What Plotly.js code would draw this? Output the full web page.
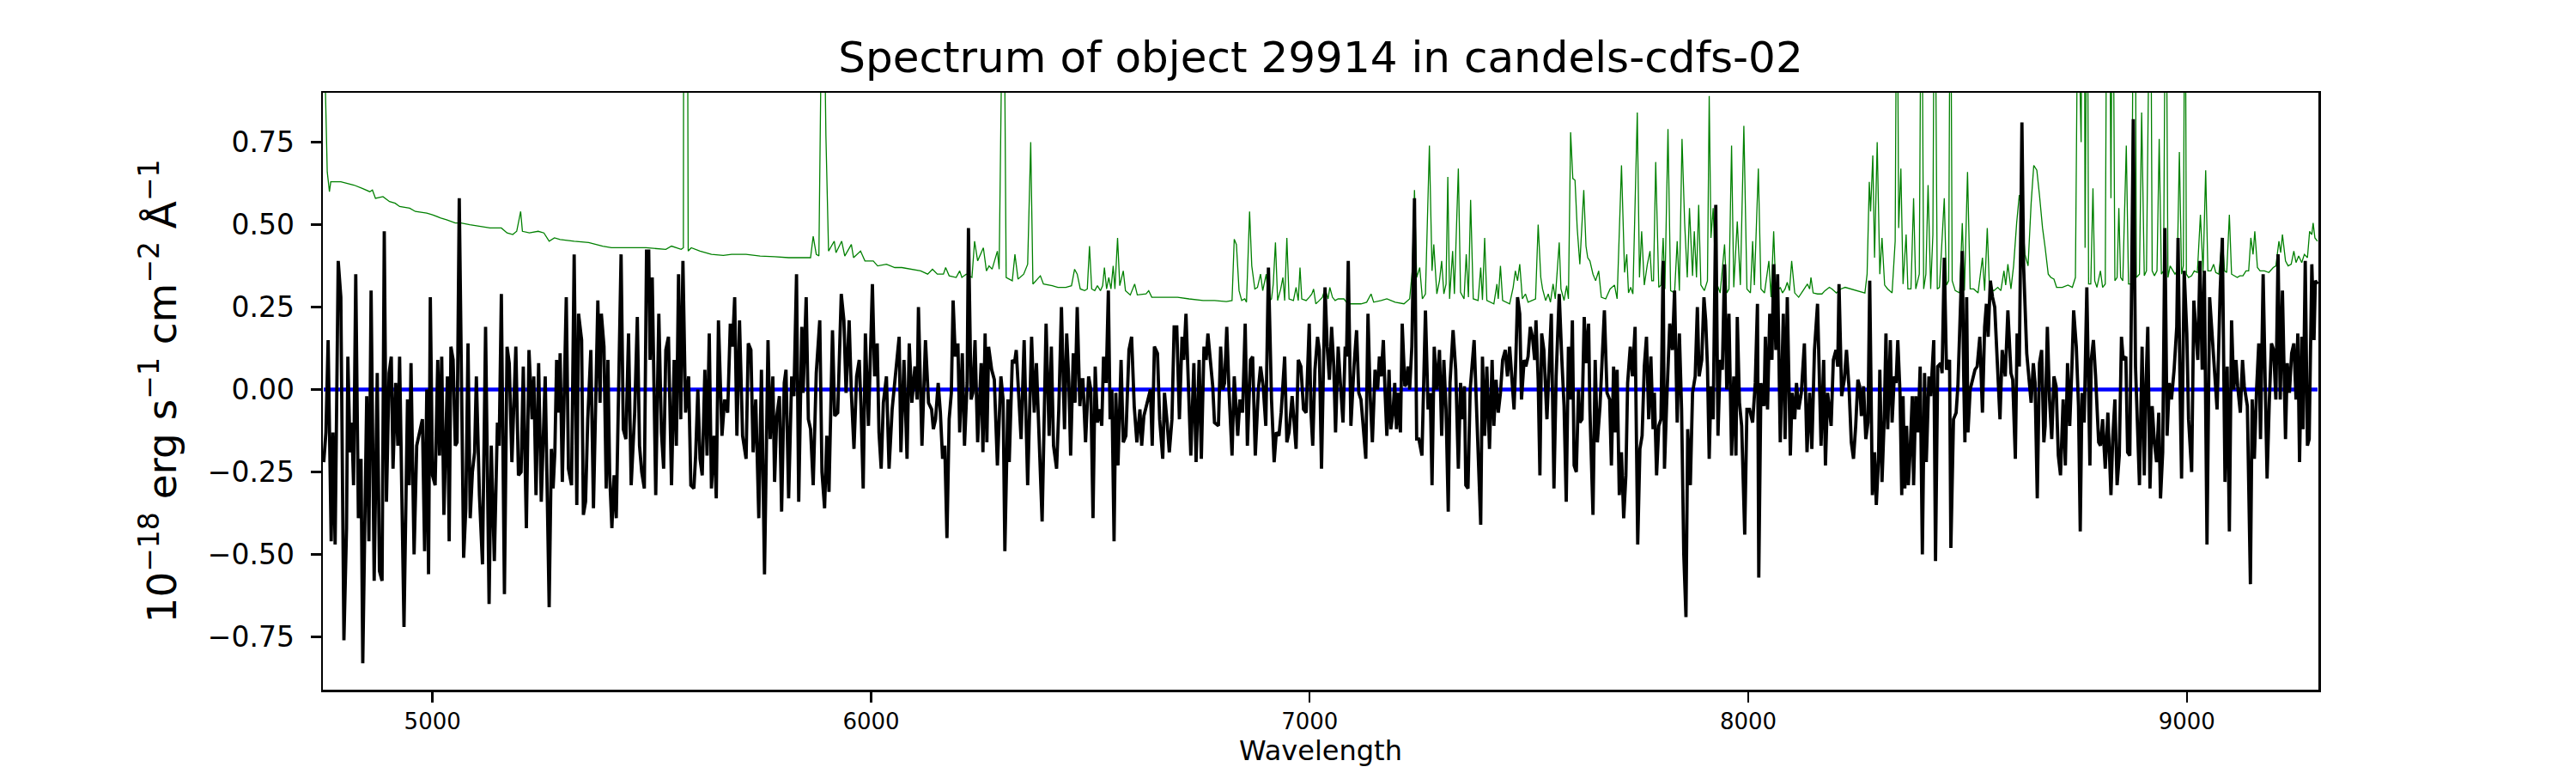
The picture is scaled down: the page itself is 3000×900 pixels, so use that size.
<!DOCTYPE html>
<html lang="en">

<head>
    <meta charset="utf-8">
    <title>Spectrum of object 29914</title>
    <script src="https://cdn.plot.ly/plotly-3.0.1.min.js"></script>

    <style>
        body,
        html {
            margin: 0;
            padding: 0;
            background: #ffffff;
            font-family: "DejaVu Sans", sans-serif;
        }
    </style>
</head>

<body>

    <div id="plot"></div>

    <script>
        const chartTitle = 'Spectrum of object 29914 in candels-cdfs-02';
        const xLabel = 'Wavelength';
        const yLabel = '10<sup>\u221218</sup> erg s<sup>\u22121</sup> cm<sup>\u22122</sup> \u00c5<sup>\u22121</sup>';

        const xTicks = [5000, 6000, 7000, 8000, 9000];
        const yTicks = [-0.75, -0.5, -0.25, 0, 0.25, 0.5, 0.75];
        const waveRange = [4750, 9300];
        const fluxRange = [-0.91, 0.9];
        const zeroLevel = 0;

        // object flux, [wavelength, flux]
        const fluxSamples = [
            [4752, -0.22], [4757, -0.13], [4762, 0.15], [4769, -0.46], [4773, -0.13], [4778, -0.47], [4785, 0.39], [4791, 0.28],
            [4798, -0.76], [4804, -0.42], [4807, 0.10], [4812, -0.19], [4816, -0.10], [4820, -0.29], [4825, 0.35], [4831, -0.39],
            [4837, -0.21], [4841, -0.83], [4850, -0.02], [4855, -0.46], [4860, 0.30], [4867, -0.58], [4874, 0.05], [4879, -0.55],
            [4885, -0.58], [4890, 0.48], [4895, -0.34], [4901, 0.05], [4906, 0.10], [4910, -0.24], [4916, 0.02], [4921, -0.17],
            [4925, 0.10], [4935, -0.72], [4943, -0.03], [4947, -0.29], [4951, 0.08], [4958, -0.50], [4964, -0.17], [4971, -0.13],
            [4977, -0.09], [4982, -0.49], [4987, 0.00], [4991, -0.56], [4995, 0.28], [5000, -0.26], [5006, -0.29], [5012, 0.09],
            [5016, -0.20], [5021, 0.10], [5026, -0.38], [5034, 0.04], [5038, -0.46], [5042, 0.13], [5047, 0.09], [5052, -0.17],
            [5056, -0.16], [5061, 0.58], [5067, -0.13], [5071, -0.51], [5076, -0.36], [5081, 0.14], [5086, -0.39], [5091, -0.25],
            [5096, -0.19], [5100, 0.04], [5107, -0.32], [5114, -0.53], [5121, 0.19], [5129, -0.65], [5134, -0.17], [5141, -0.52],
            [5148, -0.10], [5152, -0.17], [5157, 0.29], [5164, -0.62], [5170, 0.13], [5175, 0.08], [5181, -0.22], [5190, 0.13],
            [5196, -0.26], [5202, -0.25], [5207, 0.07], [5214, -0.42], [5220, 0.12], [5227, -0.09], [5231, 0.04], [5236, -0.32],
            [5242, 0.08], [5248, -0.34], [5257, 0.04], [5266, -0.66], [5271, -0.18], [5275, -0.30], [5279, -0.19], [5283, 0.09],
            [5288, -0.07], [5291, 0.11], [5296, -0.28], [5305, 0.28], [5310, -0.24], [5317, -0.29], [5323, 0.41], [5329, -0.35],
            [5333, 0.23], [5340, 0.15], [5344, -0.38], [5349, -0.34], [5354, -0.09], [5361, 0.12], [5367, -0.36], [5377, 0.27],
            [5382, -0.04], [5385, 0.23], [5391, 0.13], [5396, -0.30], [5400, 0.09], [5404, -0.26], [5409, -0.42], [5414, -0.26],
            [5419, -0.39], [5424, -0.03], [5430, 0.41], [5435, -0.12], [5441, -0.15], [5447, 0.17], [5453, -0.29], [5461, -0.07],
            [5467, 0.22], [5472, -0.17], [5477, -0.25], [5483, -0.30], [5488, 0.42], [5493, 0.42], [5496, 0.09], [5501, 0.34],
            [5509, -0.32], [5516, 0.23], [5522, -0.13], [5527, -0.24], [5532, 0.12], [5538, 0.16], [5545, -0.29], [5551, 0.09],
            [5556, -0.17], [5561, 0.35], [5566, -0.09], [5571, 0.39], [5577, -0.07], [5584, 0.04], [5589, -0.29], [5596, -0.30],
            [5600, -0.20], [5605, 0.00], [5610, -0.21], [5615, -0.26], [5621, 0.06], [5626, -0.20], [5631, 0.17], [5636, -0.30],
            [5642, -0.14], [5647, -0.33], [5652, 0.21], [5660, -0.14], [5666, -0.03], [5673, -0.07], [5679, 0.20], [5684, 0.13],
            [5689, 0.28], [5694, -0.14], [5700, 0.21], [5707, -0.14], [5715, -0.21], [5720, 0.14], [5726, 0.12], [5731, -0.19],
            [5737, -0.03], [5744, -0.39], [5750, 0.06], [5757, -0.56], [5765, 0.15], [5770, -0.15], [5776, 0.04], [5780, -0.28],
            [5785, -0.08], [5791, -0.02], [5796, -0.37], [5802, 0.02], [5806, 0.06], [5812, -0.33], [5819, 0.04], [5824, -0.02],
            [5830, 0.35], [5835, -0.34], [5842, 0.19], [5845, -0.01], [5852, 0.28], [5857, -0.09], [5862, -0.12], [5868, -0.29],
            [5875, 0.05], [5883, 0.21], [5888, -0.25], [5894, -0.36], [5899, -0.14], [5904, -0.31], [5912, 0.18], [5917, -0.08],
            [5924, -0.07], [5932, 0.29], [5938, 0.21], [5943, -0.01], [5950, 0.21], [5955, -0.01], [5961, -0.18], [5967, 0.04],
            [5973, 0.09], [5977, -0.05], [5982, -0.30], [5987, 0.17], [5994, -0.11], [6003, 0.32], [6008, 0.04], [6014, 0.14],
            [6018, -0.13], [6023, -0.24], [6028, -0.04], [6035, 0.04], [6041, -0.24], [6048, -0.06], [6055, 0.04], [6064, 0.16],
            [6068, -0.19], [6075, 0.09], [6082, -0.21], [6087, 0.14], [6093, -0.04], [6100, 0.07], [6105, -0.03], [6108, 0.25],
            [6116, -0.17], [6124, 0.15], [6131, -0.04], [6138, -0.06], [6142, -0.12], [6147, -0.09], [6153, 0.02], [6158, -0.07],
            [6163, -0.21], [6168, -0.17], [6173, -0.45], [6178, -0.09], [6183, -0.01], [6187, 0.27], [6192, 0.10], [6198, 0.14],
            [6202, -0.13], [6208, 0.11], [6213, -0.17], [6219, 0.02], [6222, 0.49], [6228, -0.03], [6232, -0.01], [6237, 0.15],
            [6243, -0.16], [6251, 0.08], [6255, -0.19], [6260, 0.17], [6264, -0.16], [6268, 0.13], [6275, 0.06], [6281, 0.03],
            [6288, -0.23], [6296, 0.04], [6301, -0.03], [6305, -0.49], [6312, -0.03], [6315, -0.22], [6322, 0.09], [6327, 0.08],
            [6331, 0.12], [6338, -0.03], [6342, -0.15], [6349, 0.15], [6357, -0.29], [6366, 0.16], [6372, -0.07], [6377, 0.08],
            [6384, -0.21], [6390, -0.40], [6399, 0.20], [6406, -0.14], [6411, 0.13], [6416, -0.17], [6423, -0.24], [6428, -0.06],
            [6434, 0.25], [6441, -0.12], [6446, 0.17], [6451, 0.02], [6455, -0.20], [6461, 0.11], [6465, -0.04], [6470, 0.25],
            [6476, -0.05], [6480, 0.03], [6483, 0.03], [6489, -0.16], [6496, 0.04], [6501, 0.00], [6506, -0.39], [6511, 0.07],
            [6516, -0.10], [6521, -0.06], [6526, -0.11], [6530, 0.10], [6536, 0.02], [6541, 0.30], [6545, -0.09], [6549, 0.00],
            [6554, -0.46], [6558, -0.01], [6563, -0.23], [6570, 0.09], [6575, -0.16], [6581, -0.14], [6588, 0.12], [6594, 0.16],
            [6600, -0.05], [6606, -0.16], [6613, -0.06], [6617, -0.17], [6622, -0.08], [6630, -0.04], [6637, 0.00], [6641, -0.17],
            [6646, 0.13], [6653, 0.11], [6658, -0.09], [6665, -0.21], [6669, -0.01], [6675, -0.10], [6680, -0.19], [6686, -0.09],
            [6691, 0.19], [6697, 0.19], [6703, -0.09], [6709, 0.16], [6713, 0.09], [6718, 0.23], [6723, 0.01], [6729, -0.20],
            [6736, 0.08], [6741, -0.22], [6748, 0.09], [6753, -0.21], [6759, 0.13], [6764, 0.09], [6768, 0.17], [6774, 0.07],
            [6779, 0.01], [6783, -0.10], [6792, -0.11], [6797, 0.13], [6802, 0.00], [6806, 0.02], [6811, 0.19], [6816, 0.00],
            [6823, -0.20], [6828, 0.04], [6836, -0.14], [6841, -0.03], [6847, -0.07], [6853, 0.20], [6858, -0.17], [6865, 0.09],
            [6870, 0.10], [6876, -0.20], [6883, 0.00], [6888, 0.07], [6894, 0.01], [6900, -0.11], [6906, 0.37], [6913, -0.03],
            [6919, -0.22], [6924, -0.13], [6930, -0.14], [6935, -0.07], [6943, 0.10], [6948, -0.16], [6953, -0.13], [6960, -0.02],
            [6965, -0.13], [6969, -0.18], [6974, 0.09], [6980, 0.07], [6986, -0.06], [6992, -0.07], [6999, 0.20], [7003, -0.07],
            [7007, -0.17], [7012, 0.06], [7018, 0.16], [7022, 0.12], [7027, -0.24], [7032, 0.07], [7035, 0.31], [7040, 0.13],
            [7045, 0.03], [7050, 0.19], [7055, 0.07], [7059, -0.13], [7065, 0.13], [7070, 0.02], [7076, -0.10], [7081, 0.13],
            [7084, 0.10], [7088, 0.39], [7094, -0.11], [7101, 0.07], [7107, 0.18], [7112, -0.01], [7117, -0.03], [7122, -0.11],
            [7128, -0.21], [7133, 0.23], [7138, -0.02], [7143, -0.16], [7149, 0.06], [7155, 0.00], [7159, 0.10], [7163, 0.04],
            [7168, 0.15], [7172, -0.01], [7176, -0.14], [7181, 0.06], [7185, -0.12], [7190, -0.07], [7194, 0.02], [7198, -0.12],
            [7202, -0.01], [7207, -0.13], [7211, 0.20], [7217, 0.01], [7221, 0.02], [7224, 0.07], [7228, 0.00], [7233, 0.13],
            [7239, 0.58], [7244, -0.15], [7249, -0.15], [7256, -0.20], [7260, 0.02], [7264, 0.24], [7270, -0.06], [7275, -0.01],
            [7279, -0.29], [7284, 0.13], [7290, 0.00], [7296, 0.12], [7301, -0.14], [7306, 0.09], [7311, -0.06], [7316, -0.37],
            [7320, 0.02], [7327, 0.18], [7333, 0.06], [7339, -0.24], [7344, 0.02], [7348, -0.09], [7353, 0.01], [7356, -0.29],
            [7361, -0.30], [7366, 0.00], [7375, 0.15], [7381, -0.05], [7390, -0.41], [7394, 0.10], [7399, -0.14], [7404, 0.07],
            [7410, -0.18], [7416, 0.09], [7420, -0.11], [7425, 0.03], [7430, -0.07], [7435, -0.01], [7440, 0.09], [7446, 0.12],
            [7451, 0.04], [7456, 0.13], [7461, 0.02], [7466, -0.06], [7470, 0.09], [7474, 0.28], [7479, 0.23], [7483, -0.03],
            [7489, 0.09], [7493, 0.07], [7498, 0.10], [7503, 0.19], [7508, 0.16], [7513, 0.09], [7516, 0.21], [7521, 0.03],
            [7525, -0.26], [7529, 0.17], [7534, 0.12], [7541, -0.09], [7551, 0.23], [7557, -0.30], [7562, 0.04], [7569, 0.29],
            [7575, 0.09], [7580, -0.05], [7585, -0.34], [7590, 0.13], [7595, -0.03], [7599, 0.21], [7603, -0.23], [7608, -0.25],
            [7613, 0.00], [7616, -0.10], [7621, -0.09], [7626, 0.22], [7631, 0.08], [7636, 0.20], [7639, -0.06], [7646, -0.38],
            [7651, 0.09], [7656, -0.16], [7662, -0.05], [7667, 0.09], [7672, 0.24], [7678, -0.01], [7684, -0.03], [7688, -0.23],
            [7693, 0.07], [7697, -0.13], [7701, 0.06], [7706, -0.32], [7711, -0.19], [7716, -0.39], [7721, -0.26], [7725, 0.02],
            [7731, 0.13], [7736, 0.04], [7742, 0.19], [7748, -0.47], [7753, -0.18], [7758, -0.14], [7763, 0.07], [7768, 0.16],
            [7773, -0.09], [7778, 0.10], [7783, -0.12], [7786, -0.01], [7791, -0.26], [7796, -0.11], [7801, -0.09], [7806, 0.39],
            [7809, -0.24], [7814, -0.04], [7821, 0.20], [7827, 0.12], [7832, 0.30], [7838, -0.10], [7843, 0.17], [7848, -0.06],
            [7853, -0.50], [7858, -0.69], [7862, -0.12], [7868, -0.29], [7873, -0.01], [7879, 0.04], [7884, 0.25], [7888, 0.04],
            [7894, 0.09], [7899, 0.28], [7903, 0.21], [7907, 0.07], [7911, -0.21], [7915, 0.01], [7920, -0.09], [7926, 0.56],
            [7931, -0.14], [7936, 0.09], [7941, 0.06], [7946, 0.38], [7951, 0.00], [7956, 0.23], [7962, -0.20], [7967, 0.04],
            [7972, -0.20], [7975, 0.22], [7980, -0.04], [7985, -0.11], [7992, -0.44], [7997, -0.06], [8003, -0.06], [8010, -0.10],
            [8016, 0.02], [8021, 0.26], [8024, -0.57], [8029, 0.02], [8036, -0.05], [8039, 0.16], [8044, -0.06], [8049, 0.23],
            [8054, 0.09], [8058, 0.38], [8063, 0.12], [8067, 0.35], [8073, -0.16], [8080, 0.23], [8084, -0.15], [8089, 0.28],
            [8096, -0.20], [8100, -0.01], [8106, -0.09], [8110, 0.02], [8115, -0.06], [8121, -0.01], [8128, 0.14], [8134, -0.19],
            [8140, -0.01], [8145, -0.18], [8151, 0.12], [8158, 0.26], [8166, -0.17], [8172, 0.09], [8176, -0.23], [8181, -0.01],
            [8189, -0.11], [8194, 0.09], [8200, 0.12], [8204, 0.07], [8207, 0.32], [8213, -0.02], [8219, 0.03], [8224, 0.12],
            [8230, 0.00], [8235, -0.16], [8240, -0.21], [8245, -0.11], [8250, 0.03], [8254, 0.01], [8258, -0.08], [8263, 0.01],
            [8268, -0.15], [8273, -0.10], [8277, 0.33], [8283, -0.32], [8288, -0.19], [8292, -0.35], [8297, -0.21], [8300, 0.06],
            [8305, -0.28], [8310, -0.09], [8314, 0.17], [8318, -0.12], [8324, 0.15], [8328, -0.10], [8333, 0.04], [8337, 0.02],
            [8341, 0.15], [8346, -0.01], [8350, -0.32], [8353, -0.02], [8357, -0.30], [8361, -0.11], [8365, -0.29], [8369, -0.19],
            [8374, -0.02], [8377, -0.29], [8382, -0.02], [8387, -0.13], [8392, 0.07], [8397, -0.50], [8402, 0.05], [8406, -0.22],
            [8412, 0.04], [8416, -0.02], [8423, 0.15], [8427, -0.52], [8432, 0.07], [8439, 0.08], [8442, 0.05], [8447, 0.40],
            [8452, 0.06], [8459, 0.09], [8462, -0.48], [8468, -0.09], [8474, -0.07], [8478, 0.01], [8483, 0.26], [8488, 0.42],
            [8491, 0.06], [8494, -0.16], [8498, 0.28], [8501, -0.13], [8506, 0.00], [8511, 0.03], [8517, 0.06], [8522, 0.07],
            [8528, 0.16], [8534, -0.07], [8539, 0.19], [8543, 0.26], [8547, 0.16], [8552, 0.33], [8557, 0.28], [8562, 0.25],
            [8568, 0.10], [8574, -0.09], [8579, 0.12], [8586, 0.04], [8592, 0.24], [8599, 0.05], [8603, 0.03], [8609, -0.21],
            [8613, 0.17], [8618, 0.07], [8624, 0.81], [8628, 0.37], [8635, 0.11], [8640, 0.03], [8645, -0.04], [8650, 0.08],
            [8654, 0.02], [8659, -0.33], [8664, 0.08], [8669, 0.12], [8674, -0.16], [8677, -0.11], [8682, 0.19], [8687, -0.03],
            [8692, -0.15], [8697, 0.04], [8702, 0.01], [8707, -0.20], [8712, -0.26], [8718, -0.03], [8723, -0.23], [8728, 0.08],
            [8733, -0.11], [8738, 0.07], [8742, 0.24], [8748, 0.13], [8753, -0.05], [8757, -0.43], [8761, -0.01], [8766, -0.10],
            [8772, 0.31], [8779, -0.23], [8782, 0.09], [8787, 0.15], [8792, 0.04], [8799, -0.16], [8803, -0.17], [8808, -0.09],
            [8814, -0.24], [8820, -0.07], [8827, -0.32], [8831, -0.15], [8836, -0.03], [8841, -0.29], [8846, -0.20], [8851, 0.16],
            [8855, 0.09], [8861, 0.10], [8865, -0.19], [8870, -0.20], [8878, 0.82], [8883, 0.07], [8887, -0.11], [8892, -0.29],
            [8898, 0.13], [8903, -0.26], [8907, 0.02], [8911, 0.19], [8916, -0.30], [8921, -0.05], [8926, -0.16], [8931, -0.22],
            [8936, -0.07], [8940, -0.33], [8945, -0.19], [8950, 0.49], [8955, -0.14], [8960, 0.02], [8965, -0.03], [8971, 0.06],
            [8977, 0.19], [8980, 0.46], [8985, -0.03], [8988, -0.27], [8994, 0.36], [9000, 0.17], [9004, -0.09], [9011, -0.25],
            [9016, 0.27], [9020, 0.17], [9025, 0.09], [9030, 0.39], [9035, 0.06], [9040, 0.36], [9046, -0.47], [9052, 0.28],
            [9056, 0.20], [9063, 0.03], [9069, -0.06], [9076, 0.30], [9081, 0.46], [9087, -0.28], [9092, 0.07], [9097, -0.43],
            [9102, 0.21], [9107, 0.00], [9112, 0.09], [9116, 0.01], [9122, -0.07], [9127, 0.09], [9131, 0.01], [9138, -0.05],
            [9145, -0.59], [9149, -0.03], [9154, -0.21], [9159, 0.00], [9164, 0.14], [9168, -0.15], [9174, 0.35], [9179, 0.00],
            [9183, -0.27], [9188, -0.04], [9193, 0.14], [9198, 0.12], [9203, -0.03], [9208, 0.41], [9213, -0.03], [9218, 0.30],
            [9225, -0.15], [9229, 0.08], [9234, -0.01], [9239, 0.11], [9244, 0.14], [9249, -0.03], [9253, 0.17], [9257, -0.22],
            [9262, 0.16], [9265, -0.12], [9270, 0.39], [9275, -0.17], [9279, -0.15], [9285, 0.38], [9290, 0.15], [9293, 0.33],
            [9298, 0.32]
        ];

        // noise / sky spectrum, [wavelength, value]; peaks above the frame are clipped
        const skySamples = [
            [4751, 1.20], [4756, 0.85], [4760, 0.66], [4765, 0.60], [4768, 0.63], [4779, 0.63], [4791, 0.63], [4806, 0.625],
            [4821, 0.62], [4840, 0.61], [4857, 0.60], [4863, 0.605], [4870, 0.58], [4887, 0.585], [4902, 0.57], [4915, 0.565],
            [4925, 0.555], [4948, 0.55], [4961, 0.54], [4987, 0.535], [5000, 0.53], [5019, 0.52], [5032, 0.515], [5052, 0.505],
            [5065, 0.505], [5085, 0.50], [5111, 0.495], [5131, 0.49], [5157, 0.49], [5170, 0.475], [5183, 0.47], [5192, 0.48],
            [5201, 0.54], [5205, 0.48], [5221, 0.475], [5241, 0.48], [5254, 0.475], [5266, 0.45], [5278, 0.46], [5291, 0.455],
            [5323, 0.45], [5356, 0.446], [5388, 0.435], [5408, 0.43], [5454, 0.43], [5487, 0.43], [5532, 0.425], [5545, 0.435],
            [5567, 0.425], [5572, 0.43], [5573, 1.5], [5581, 1.5], [5583, 0.42], [5590, 0.43], [5610, 0.42], [5623, 0.415],
            [5636, 0.41], [5663, 0.407], [5682, 0.41], [5715, 0.41], [5747, 0.405], [5780, 0.403], [5812, 0.40], [5844, 0.40],
            [5862, 0.40], [5868, 0.465], [5875, 0.41], [5881, 0.405], [5887, 1.5], [5890, 1.5], [5897, 0.77], [5903, 0.42],
            [5916, 0.45], [5920, 0.415], [5933, 0.45], [5940, 0.405], [5955, 0.44], [5960, 0.40], [5976, 0.42], [5986, 0.39],
            [6005, 0.39], [6015, 0.375], [6035, 0.38], [6054, 0.37], [6070, 0.37], [6093, 0.365], [6113, 0.36], [6129, 0.35],
            [6140, 0.365], [6151, 0.35], [6165, 0.35], [6170, 0.37], [6178, 0.345], [6194, 0.34], [6202, 0.36], [6207, 0.34],
            [6217, 0.35], [6230, 0.34], [6236, 0.45], [6243, 0.39], [6256, 0.43], [6263, 0.36], [6269, 0.375], [6276, 0.365],
            [6288, 0.42], [6292, 0.365], [6297, 1.5], [6302, 1.5], [6308, 0.34], [6322, 0.33], [6328, 0.41], [6335, 0.335],
            [6348, 0.35], [6357, 0.38], [6364, 0.75], [6369, 0.32], [6386, 0.345], [6393, 0.32], [6413, 0.315], [6426, 0.31],
            [6444, 0.31], [6457, 0.315], [6464, 0.365], [6470, 0.35], [6477, 0.305], [6487, 0.30], [6493, 0.305], [6498, 0.435],
            [6503, 0.305], [6510, 0.30], [6516, 0.315], [6523, 0.30], [6528, 0.315], [6532, 0.37], [6537, 0.305], [6542, 0.34],
            [6547, 0.305], [6552, 0.375], [6556, 0.305], [6562, 0.46], [6567, 0.315], [6575, 0.36], [6580, 0.30], [6591, 0.287],
            [6601, 0.32], [6607, 0.287], [6627, 0.29], [6633, 0.30], [6640, 0.28], [6666, 0.28], [6699, 0.28], [6725, 0.275],
            [6757, 0.27], [6783, 0.27], [6810, 0.267], [6823, 0.27], [6828, 0.456], [6833, 0.44], [6839, 0.30], [6845, 0.27],
            [6852, 0.275], [6856, 0.265], [6863, 0.54], [6868, 0.375], [6875, 0.305], [6881, 0.31], [6888, 0.35], [6893, 0.30],
            [6901, 0.35], [6906, 0.265], [6913, 0.275], [6917, 0.32], [6922, 0.446], [6927, 0.27], [6934, 0.305], [6939, 0.34],
            [6943, 0.27], [6948, 0.46], [6953, 0.275], [6963, 0.27], [6969, 0.31], [6974, 0.27], [6978, 0.37], [6982, 0.275],
            [6992, 0.27], [6999, 0.28], [7005, 0.29], [7009, 0.305], [7014, 0.26], [7022, 0.27], [7029, 0.28], [7035, 0.305],
            [7042, 0.275], [7046, 0.31], [7052, 0.28], [7058, 0.27], [7065, 0.275], [7078, 0.275], [7087, 0.26], [7117, 0.26],
            [7130, 0.265], [7140, 0.29], [7146, 0.265], [7163, 0.27], [7176, 0.275], [7195, 0.265], [7215, 0.26], [7228, 0.275],
            [7234, 0.36], [7239, 0.605], [7244, 0.34], [7251, 0.37], [7257, 0.275], [7264, 0.29], [7273, 0.74], [7279, 0.36],
            [7283, 0.44], [7290, 0.29], [7296, 0.33], [7301, 0.39], [7306, 0.29], [7311, 0.32], [7315, 0.645], [7319, 0.275],
            [7326, 0.42], [7330, 0.29], [7339, 0.67], [7344, 0.295], [7352, 0.275], [7357, 0.41], [7362, 0.28], [7367, 0.575],
            [7373, 0.275], [7384, 0.27], [7390, 0.37], [7394, 0.272], [7399, 0.46], [7404, 0.27], [7420, 0.26], [7427, 0.32],
            [7430, 0.275], [7435, 0.375], [7440, 0.27], [7456, 0.26], [7464, 0.31], [7469, 0.36], [7474, 0.33], [7479, 0.38],
            [7485, 0.275], [7492, 0.29], [7498, 0.265], [7515, 0.275], [7521, 0.50], [7527, 0.34], [7531, 0.305], [7538, 0.27],
            [7544, 0.29], [7549, 0.265], [7555, 0.32], [7560, 0.275], [7569, 0.446], [7573, 0.305], [7580, 0.27], [7586, 0.315],
            [7590, 0.275], [7595, 0.78], [7600, 0.64], [7605, 0.635], [7610, 0.49], [7616, 0.38], [7625, 0.605], [7630, 0.435],
            [7634, 0.40], [7639, 0.39], [7646, 0.35], [7652, 0.33], [7659, 0.36], [7665, 0.28], [7675, 0.275], [7685, 0.305],
            [7695, 0.317], [7701, 0.275], [7711, 0.68], [7718, 0.355], [7723, 0.41], [7727, 0.293], [7732, 0.31], [7737, 0.29],
            [7747, 0.84], [7752, 0.34], [7757, 0.48], [7763, 0.317], [7770, 0.38], [7776, 0.42], [7780, 0.33], [7784, 0.33],
            [7789, 0.69], [7796, 0.31], [7801, 0.317], [7806, 0.46], [7810, 0.305], [7817, 0.79], [7823, 0.30], [7832, 0.293],
            [7838, 0.45], [7843, 0.30], [7849, 0.76], [7855, 0.505], [7861, 0.34], [7866, 0.55], [7873, 0.345], [7877, 0.48],
            [7882, 0.34], [7887, 0.56], [7892, 0.317], [7900, 0.30], [7907, 0.33], [7911, 0.89], [7915, 0.46], [7920, 0.55],
            [7926, 0.33], [7936, 0.293], [7946, 0.44], [7951, 0.293], [7956, 0.305], [7962, 0.74], [7967, 0.31], [7975, 0.51],
            [7982, 0.317], [7990, 0.80], [7997, 0.305], [8005, 0.293], [8010, 0.45], [8014, 0.317], [8023, 0.67], [8029, 0.305],
            [8037, 0.293], [8047, 0.39], [8052, 0.28], [8058, 0.48], [8063, 0.293], [8073, 0.31], [8078, 0.293], [8084, 0.305],
            [8089, 0.325], [8094, 0.30], [8099, 0.39], [8106, 0.293], [8115, 0.28], [8125, 0.30], [8135, 0.32], [8140, 0.305],
            [8143, 0.34], [8148, 0.293], [8158, 0.29], [8168, 0.29], [8175, 0.30], [8185, 0.31], [8191, 0.305], [8201, 0.293],
            [8211, 0.305], [8221, 0.31], [8234, 0.305], [8247, 0.30], [8266, 0.293], [8271, 0.35], [8276, 0.63], [8279, 0.54],
            [8284, 0.71], [8288, 0.40], [8294, 0.75], [8300, 0.35], [8305, 0.46], [8311, 0.317], [8318, 0.305], [8328, 0.293],
            [8335, 0.45], [8339, 1.5], [8343, 0.49], [8348, 0.67], [8353, 0.32], [8360, 0.47], [8364, 0.305], [8371, 0.305],
            [8377, 0.58], [8382, 0.305], [8390, 0.35], [8395, 1.5], [8400, 0.305], [8405, 0.35], [8410, 0.62], [8416, 0.305],
            [8421, 0.47], [8425, 1.5], [8431, 0.305], [8436, 0.31], [8447, 0.58], [8452, 0.317], [8457, 0.33], [8461, 1.5],
            [8465, 0.33], [8472, 0.30], [8482, 0.293], [8488, 0.505], [8493, 0.30], [8500, 0.66], [8506, 0.305], [8514, 0.305],
            [8524, 0.293], [8534, 0.40], [8539, 0.30], [8545, 0.49], [8550, 0.305], [8560, 0.30], [8569, 0.31], [8576, 0.30],
            [8583, 0.36], [8587, 0.317], [8592, 0.38], [8599, 0.305], [8605, 0.375], [8612, 0.505], [8618, 0.59], [8625, 0.52],
            [8631, 0.41], [8638, 0.375], [8645, 0.565], [8651, 0.68], [8658, 0.665], [8664, 0.59], [8671, 0.49], [8677, 0.43],
            [8684, 0.35], [8690, 0.34], [8697, 0.335], [8703, 0.31], [8716, 0.31], [8729, 0.317], [8739, 0.31], [8746, 0.34],
            [8749, 1.5], [8753, 1.5], [8756, 0.95], [8759, 0.75], [8762, 1.5], [8766, 1.5], [8768, 0.43], [8770, 1.5],
            [8773, 1.5], [8776, 0.32], [8781, 0.32], [8786, 0.61], [8790, 0.33], [8795, 0.31], [8803, 0.36], [8808, 0.31],
            [8814, 0.32], [8818, 1.5], [8823, 1.5], [8827, 0.58], [8831, 1.5], [8836, 0.33], [8841, 0.34], [8845, 0.55],
            [8849, 0.34], [8854, 0.33], [8862, 0.74], [8867, 0.32], [8874, 0.32], [8879, 1.5], [8882, 1.5], [8885, 0.34],
            [8892, 0.35], [8897, 0.84], [8903, 0.345], [8908, 0.36], [8913, 1.5], [8917, 1.5], [8921, 0.36], [8926, 0.345],
            [8932, 0.36], [8937, 0.76], [8942, 0.35], [8947, 0.36], [8952, 1.5], [8957, 0.34], [8962, 0.375], [8968, 0.36],
            [8973, 0.35], [8978, 0.36], [8983, 0.72], [8988, 0.35], [8992, 0.375], [8996, 1.5], [8999, 0.35], [9004, 0.34],
            [9011, 0.345], [9017, 0.36], [9024, 0.355], [9031, 0.53], [9037, 0.355], [9043, 0.665], [9048, 0.36], [9055, 0.36],
            [9061, 0.38], [9066, 0.355], [9073, 0.35], [9081, 0.46], [9086, 0.36], [9091, 0.355], [9097, 0.53], [9102, 0.35],
            [9108, 0.345], [9115, 0.34], [9121, 0.345], [9128, 0.345], [9135, 0.36], [9141, 0.36], [9146, 0.46], [9151, 0.41],
            [9155, 0.48], [9161, 0.37], [9167, 0.36], [9177, 0.36], [9187, 0.355], [9197, 0.37], [9203, 0.375], [9210, 0.45],
            [9214, 0.415], [9218, 0.47], [9225, 0.39], [9231, 0.375], [9238, 0.38], [9244, 0.42], [9249, 0.385], [9255, 0.405],
            [9262, 0.385], [9268, 0.41], [9275, 0.40], [9280, 0.48], [9285, 0.47], [9288, 0.505], [9292, 0.46], [9298, 0.45]
        ];

        function column(rows, i) {
            return rows.map(function (r) { return r[i]; });
        }

        const fluxWave = column(fluxSamples, 0);
        const fluxValue = column(fluxSamples, 1);
        const skyWave = column(skySamples, 0);
        const skyValue = column(skySamples, 1);

        const sky = {
            x: skyWave,
            y: skyValue,
            type: 'scatter',
            mode: 'lines',
            line: { color: '#008000', width: 1.3 },
            hoverinfo: 'skip'
        };
        const zero = {
            x: [fluxWave[0], fluxWave[fluxWave.length - 1]],
            y: [zeroLevel, zeroLevel],
            type: 'scatter',
            mode: 'lines',
            line: { color: '#0000ff', width: 4.5 },
            hoverinfo: 'skip'
        };
        const flux = {
            x: fluxWave,
            y: fluxValue,
            type: 'scatter',
            mode: 'lines',
            line: { color: '#000000', width: 3.8 }
        };

        const axisCommon = {
            showgrid: false,
            zeroline: false,
            showline: true,
            mirror: true,
            linecolor: '#000000',
            linewidth: 2.5,
            ticks: 'outside',
            ticklen: 12,
            tickwidth: 2.5,
            tickcolor: '#000000'
        };

        const layout = {
            width: 3000,
            height: 900,
            showlegend: false,
            paper_bgcolor: '#ffffff',
            plot_bgcolor: '#ffffff',
            font: { family: 'DejaVu Sans', color: '#000000' },
            margin: { l: 376, r: 300, t: 108, b: 97 },
            title: {
                text: chartTitle,
                font: { size: 50 },
                x: 0.5,
                xref: 'paper',
                y: 0.926,
                yanchor: 'middle'
            },
            xaxis: Object.assign({}, axisCommon, {
                range: waveRange,
                tickvals: xTicks,
                ticktext: xTicks.map(String),
                tickfont: { size: 26 },
                title: { text: xLabel, font: { size: 32 }, standoff: 8 }
            }),
            yaxis: Object.assign({}, axisCommon, {
                range: fluxRange,
                tickvals: yTicks,
                tickformat: '.2f',
                tickfont: { size: 33 },
                ticklabelstandoff: 12,
                title: { text: yLabel, font: { size: 47 }, standoff: 22 }
            })
        };

        Plotly.newPlot('plot', [sky, zero, flux], layout, { staticPlot: true, displayModeBar: false });
    </script>

</body>

</html>
